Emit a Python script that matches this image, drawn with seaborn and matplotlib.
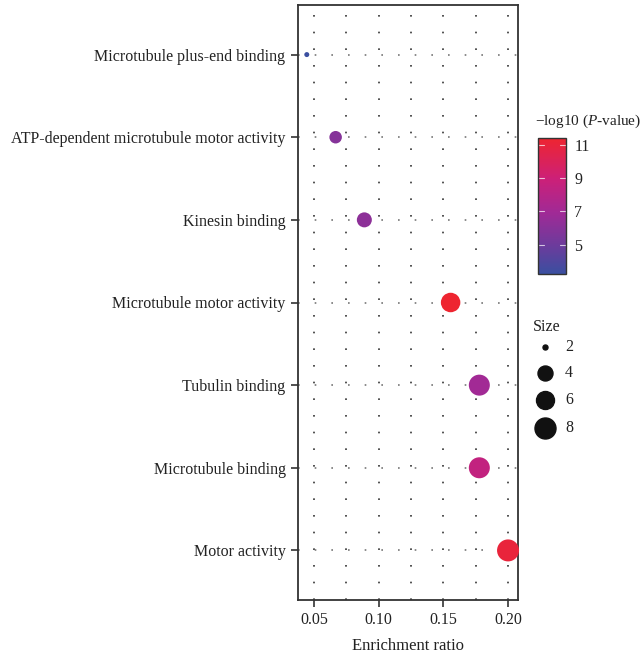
import numpy as np
import pandas as pd
import matplotlib
matplotlib.use("Agg")
import matplotlib.pyplot as plt
from matplotlib.colors import LinearSegmentedColormap, Normalize
from matplotlib.lines import Line2D
import seaborn as sns

terms = ["Microtubule plus-end binding",
         "ATP-dependent microtubule motor activity",
         "Kinesin binding",
         "Microtubule motor activity",
         "Tubulin binding",
         "Microtubule binding",
         "Motor activity"]
enrichment = [0.0444, 0.0667, 0.0889, 0.1556, 0.1778, 0.1778, 0.2000]
gene_count = [2, 3, 4, 7, 8, 8, 9]
neglog10p = [3.3, 5.9, 6.2, 11.4, 7.0, 8.5, 11.0]

x_ticks = [0.05, 0.10, 0.15, 0.20]
x_ticklabels = ["0.05", "0.10", "0.15", "0.20"]
cbar_ticks = [5, 7, 9, 11]
size_legend = [2, 4, 6, 8]

sns.set_theme(style="white")
plt.rcParams["font.family"] = ["Liberation Serif", "DejaVu Serif"]
plt.rcParams["mathtext.fontset"] = "custom"
plt.rcParams["mathtext.rm"] = "Liberation Serif"
plt.rcParams["mathtext.it"] = "Liberation Serif:italic"

df = pd.DataFrame({"term": terms, "ratio": enrichment, "count": gene_count, "p": neglog10p})

cmap = LinearSegmentedColormap.from_list(
    "bp", [(0.0, "#3A4FA0"), (0.2, "#6A3C9C"), (0.45, "#A02A96"),
           (0.7, "#CC2078"), (1.0, "#EE2530")])
norm = Normalize(vmin=3.25, vmax=11.4)

px = 72 / 100.0
def diam_px(c):
    return np.interp(c, [2, 3, 4, 6, 7, 8, 9], [5, 12.5, 15, 18, 19.5, 21, 22])
size_map = {c: (diam_px(c) * px) ** 2 for c in sorted(set(gene_count))}

fig = plt.figure(figsize=(6.42, 6.55), dpi=100)
ax = fig.add_axes([298 / 642, 1 - 600 / 655, 220 / 642, 595 / 655])

ypos = {t: i for i, t in enumerate(terms)}
df["y"] = df["term"].map(ypos)

# grid
for xv in np.arange(0.05, 0.2001, 0.025):
    ax.axvline(xv, color="#333333", lw=1.2, ls=(0, (1, 9)), zorder=0)
for yv in range(len(terms)):
    ax.axhline(yv, color="#777777", lw=1.2, ls=(0, (1, 9)), zorder=0)

sns.scatterplot(data=df, x="ratio", y="y", hue="p", size="count",
                sizes=size_map, hue_norm=norm, palette=cmap,
                linewidth=0, legend=False, ax=ax, zorder=3, clip_on=False)

ax.set_xlim(0.0376, 0.2077)
ax.set_ylim(len(terms) - 1 + 0.6, -0.6)
ax.set_yticks(range(len(terms)))
ax.set_yticklabels(terms, fontsize=11.5, color="#222222")
ax.set_xticks(x_ticks)
ax.set_xticklabels(x_ticklabels, fontsize=11.5, color="#222222")
ax.set_xlabel("Enrichment ratio", fontsize=12, color="#222222", labelpad=7)
ax.set_ylabel("")
ax.tick_params(axis="both", which="major", length=5, width=1.2, color="#333333",
               left=True, bottom=True, direction="out", pad=4)
for s in ax.spines.values():
    s.set_visible(True)
    s.set_color("#333333")
    s.set_linewidth(1.3)

# colorbar
cax = fig.add_axes([538 / 642, 1 - 274 / 655, 28 / 642, 136 / 655])
sm = plt.cm.ScalarMappable(norm=norm, cmap=cmap)
cb = fig.colorbar(sm, cax=cax, ticks=cbar_ticks)
cb.outline.set_edgecolor("#333333")
cb.outline.set_linewidth(1.0)
cax.tick_params(labelsize=11.5, length=0, pad=6, labelcolor="#222222")
for t in cbar_ticks:
    cax.plot([0, 0.2], [t, t], color="white", lw=0.8, alpha=0.7, transform=cax.get_yaxis_transform())
    cax.plot([0.8, 1], [t, t], color="white", lw=0.8, alpha=0.7, transform=cax.get_yaxis_transform())
fig.text(535 / 642, 1 - 121 / 655, "\u2212log10 ($\\mathit{P}$-value)", fontsize=11,
         va="center", ha="left", color="#222222")

# size legend
fig.text(533 / 642, 1 - 327 / 655, "Size", fontsize=11.5, va="center", ha="left", color="#222222")
for yy, c in zip([347, 373, 400, 428], size_legend):
    fig.add_artist(Line2D([545 / 642], [1 - yy / 655], marker="o", ls="",
                          markersize=diam_px(c) * px, color="#111111",
                          transform=fig.transFigure))
    fig.text(565 / 642, 1 - yy / 655, str(c), fontsize=11.5, va="center", ha="left", color="#222222")

fig.savefig("out.png", dpi=100)
